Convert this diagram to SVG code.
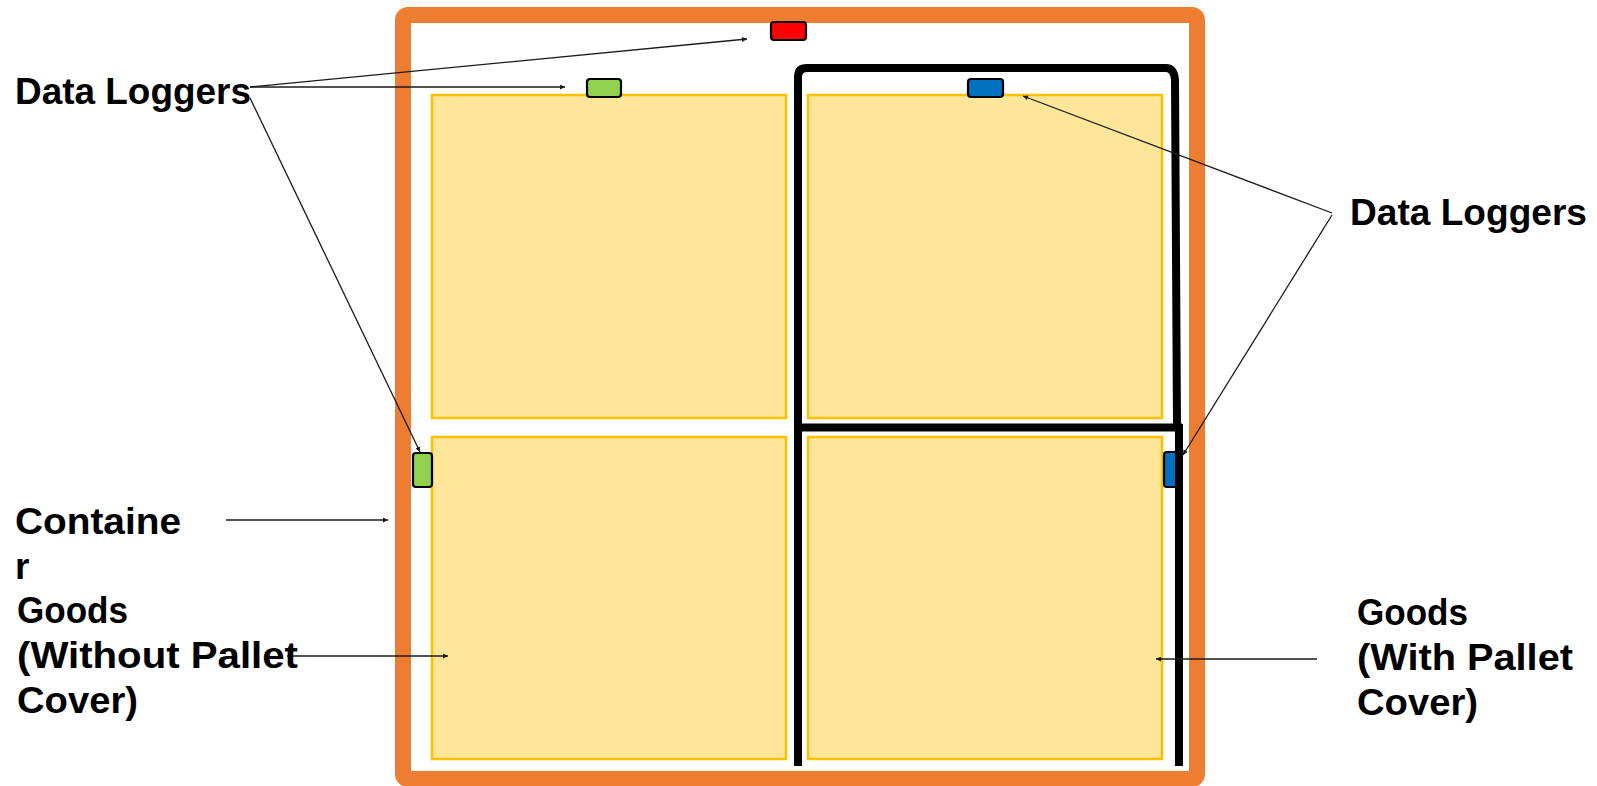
<svg xmlns="http://www.w3.org/2000/svg" width="1597" height="786" viewBox="0 0 1597 786">
  <style>
    .lbl { font-family: "Liberation Sans", Arial, sans-serif; font-weight: bold; font-size: 37px; fill: #000; }
    .goods { fill: #FFE699; stroke: #FFC000; stroke-width: 2.5; }
    .logger { stroke: #000; stroke-width: 2.2; }
    .cover { fill: none; stroke: #000; stroke-width: 8; stroke-linecap: butt; }
    .conn { fill: none; stroke: #1a1a1a; stroke-width: 1.3; marker-end: url(#arr); }
  </style>
  <defs>
    <marker id="arr" viewBox="0 0 10 10" refX="10" refY="5" markerWidth="7" markerHeight="5" markerUnits="userSpaceOnUse" orient="auto">
      <path d="M0,0 L10,5 L0,10 z" fill="#1a1a1a"/>
    </marker>
  </defs>
  <rect width="1597" height="786" fill="#fff"/>

  <g id="container">
    <rect x="403" y="15" width="794" height="764" rx="5" fill="#fff" stroke="#ED7D31" stroke-width="16"/>
  </g>

  <g id="goods-tl"><rect class="goods" x="432" y="95" width="354" height="323"/></g>
  <g id="goods-tr"><rect class="goods" x="808" y="95" width="354" height="323"/></g>
  <g id="goods-bl"><rect class="goods" x="432" y="437" width="354" height="322"/></g>
  <g id="goods-br"><rect class="goods" x="808" y="437" width="354" height="322"/></g>

  <g id="logger-blue-right"><rect class="logger" x="1164" y="452" width="16" height="35" rx="3" fill="#0070C0"/></g>

  <g id="pallet-cover">
    <path class="cover" d="M 798 426 L 798 77 Q 798 68 807 68 L 1166 68 Q 1174 68 1175 80 L 1177 426"/>
    <path class="cover" d="M 798 427.5 L 1182 427.5" stroke-width="9"/>
    <path class="cover" d="M 798 424 L 798 766"/>
    <path class="cover" d="M 1179 424 L 1179 766"/>
  </g>

  <g id="logger-red"><rect class="logger" x="771" y="22" width="35" height="18" rx="3" fill="#FF0000"/></g>
  <g id="logger-green-top"><rect class="logger" x="587" y="79" width="34" height="18" rx="3" fill="#92D050"/></g>
  <g id="logger-green-left"><rect class="logger" x="413" y="453" width="19" height="34" rx="3" fill="#92D050"/></g>
  <g id="logger-blue-top"><rect class="logger" x="968" y="79" width="35" height="18" rx="3" fill="#0070C0"/></g>

  <g id="connectors">
    <path class="conn" d="M 250 87 L 747 39"/>
    <path class="conn" d="M 250 87 L 565 87"/>
    <path class="conn" d="M 250 98 L 420 452"/>
    <path class="conn" d="M 1332 213 L 1023 96"/>
    <path class="conn" d="M 1332 215 L 1183 455"/>
    <path class="conn" d="M 226 520 L 388 520"/>
    <path class="conn" d="M 287 656 L 448 656"/>
    <path class="conn" d="M 1317 659 L 1156 659"/>
  </g>

  <g id="label-loggers-left"><text class="lbl" x="15" y="104" textLength="236" lengthAdjust="spacingAndGlyphs">Data Loggers</text></g>
  <g id="label-loggers-right"><text class="lbl" x="1350" y="225" textLength="237" lengthAdjust="spacingAndGlyphs">Data Loggers</text></g>
  <g id="label-container">
    <text class="lbl" x="15" y="534" textLength="166" lengthAdjust="spacingAndGlyphs">Containe</text>
    <text class="lbl" x="15" y="579">r</text>
  </g>
  <g id="label-goods-without">
    <text class="lbl" x="17" y="623" textLength="111" lengthAdjust="spacingAndGlyphs">Goods</text>
    <text class="lbl" x="17" y="668" textLength="281" lengthAdjust="spacingAndGlyphs">(Without Pallet</text>
    <text class="lbl" x="17" y="713" textLength="121" lengthAdjust="spacingAndGlyphs">Cover)</text>
  </g>
  <g id="label-goods-with">
    <text class="lbl" x="1357" y="625" textLength="111" lengthAdjust="spacingAndGlyphs">Goods</text>
    <text class="lbl" x="1357" y="670" textLength="216" lengthAdjust="spacingAndGlyphs">(With Pallet</text>
    <text class="lbl" x="1357" y="715" textLength="121" lengthAdjust="spacingAndGlyphs">Cover)</text>
  </g>
</svg>
